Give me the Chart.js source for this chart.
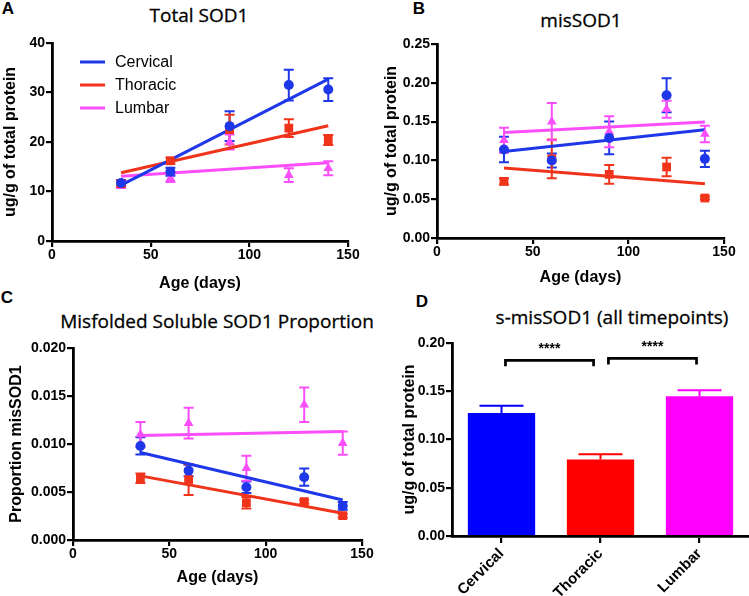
<!DOCTYPE html>
<html>
<head>
<meta charset="utf-8">
<script src="https://cdn.jsdelivr.net/npm/chart.js@4.4.1/dist/chart.umd.min.js"></script>
<style>
  html, body { margin: 0; padding: 0; background: #fff; }
  body { width: 749px; height: 596px; position: relative; overflow: hidden; }
  canvas { position: absolute; }
  .ttl { position: absolute; transform: translate(-50%, -50%); white-space: nowrap;
         font-family: 'Open Sans', sans-serif; font-size: 19px; font-weight: 500; line-height: 1; color: #000;
         -webkit-text-stroke: 0.3px #000; }
  .let { position: absolute; transform: translate(-50%, -50%); font-family: 'Liberation Sans', Arial, sans-serif;
         font-weight: bold; font-size: 17px; line-height: 1; color: #000; }
</style>
</head>
<body>
<div class="let" style="left:8px; top:8px">A</div>
<div class="let" style="left:419px; top:8px">B</div>
<div class="let" style="left:7px; top:297px">C</div>
<div class="let" style="left:422px; top:301px">D</div>
<div class="ttl" style="left:199px; top:15px">Total SOD1</div>
<div class="ttl" style="left:581px; top:20px">misSOD1</div>
<div class="ttl" style="left:217px; top:321px">Misfolded Soluble SOD1 Proportion</div>
<div class="ttl" style="left:612px; top:317px">s-misSOD1 (all timepoints)</div>

<canvas id="cA" width="375" height="293" style="left:0px; top:0px"></canvas>
<canvas id="cB" width="374" height="290" style="left:375px; top:0px"></canvas>
<canvas id="cC" width="375" height="296" style="left:0px; top:300px"></canvas>
<canvas id="cD" width="374" height="296" style="left:375px; top:300px"></canvas>

<script>
// ---------------- DATA ----------------
const regions = ['Cervical', 'Thoracic', 'Lumbar'];
const ages = [35, 60, 90, 120, 140];
const fitAges = [35, 140];

// A: Total SOD1 (ug/g of total protein)
const totalCervical = [11.7, 14.0, 23.2, 31.5, 30.6];
const totalCervicalSem = [0.6, 0.8, 3.0, 3.1, 2.3];
const totalThoracic = [11.6, 16.2, 22.5, 22.8, 20.4];
const totalThoracicSem = [0.5, 0.6, 3.0, 1.8, 1.0];
const totalLumbar = [11.3, 12.7, 20.0, 13.3, 14.7];
const totalLumbarSem = [0.6, 0.8, 1.5, 1.4, 1.4];
const totalFitCervical = [11.3, 32.7];
const totalFitThoracic = [13.8, 23.3];
const totalFitLumbar = [13.1, 15.8];
const totalTicks = [0, 10, 20, 30, 40];

// B: misSOD1
const misCervical = [0.114, 0.100, 0.129, 0.184, 0.102];
const misCervicalSem = [0.0165, 0.009, 0.021, 0.022, 0.0105];
const misThoracic = [0.073, 0.102, 0.082, 0.0915, 0.0515];
const misThoracicSem = [0.004, 0.025, 0.012, 0.012, 0.002];
const misLumbar = [0.126, 0.150, 0.137, 0.166, 0.134];
const misLumbarSem = [0.016, 0.024, 0.020, 0.011, 0.0105];
const misFitCervical = [0.1116, 0.1396];
const misFitThoracic = [0.0902, 0.0700];
const misFitLumbar = [0.1360, 0.1495];
const misTicks = [0, 0.05, 0.10, 0.15, 0.20, 0.25];

// C: Proportion misSOD1
const propCervical = [0.0098, 0.00723, 0.0055, 0.00654, 0.00355];
const propCervicalSem = [0.0009, 0.0006, 0.0006, 0.0009, 0.0004];
const propThoracic = [0.00643, 0.0063, 0.00389, 0.0040, 0.00254];
const propThoracicSem = [0.0005, 0.0016, 0.0006, 0.0002, 0.0002];
const propLumbar = [0.0110, 0.01217, 0.00748, 0.01409, 0.01009];
const propLumbarSem = [0.0013, 0.0016, 0.0013, 0.0018, 0.0012];
const propFitCervical = [0.00911, 0.00417];
const propFitThoracic = [0.00668, 0.00278];
const propFitLumbar = [0.01089, 0.0113];
const propTicks = [0, 0.005, 0.010, 0.015, 0.020];

// D: s-misSOD1 (all timepoints)
const allMeans = [0.1275, 0.0792, 0.1448];
const allSem = [0.0075, 0.0055, 0.0062];
const allTicks = [0, 0.05, 0.10, 0.15, 0.20];
const sigPairs = [[0, 1], [1, 2]];
const sigLevels = [0.182, 0.184];
const sigLabels = ['****', '****'];

const ageTicks = [0, 50, 100, 150];

// ---------------- STYLE ----------------
const BLUE = 'rgb(30,55,232)';
const RED = 'rgb(240,52,28)';
const PINK = 'rgb(250,78,250)';
const BAR_COLORS = ['rgb(0,0,255)', 'rgb(255,0,0)', 'rgb(255,0,255)'];
const FONT = "'Liberation Sans', Arial, Helvetica, sans-serif";
Chart.defaults.font.family = FONT;
Chart.defaults.color = '#000';

function pts(xs, ys) { return xs.map((x, i) => ({ x: x, y: ys[i] })); }

const errorBarPlugin = {
  id: 'errorBars',
  beforeDatasetsDraw(chart) {
    const ctx = chart.ctx;
    chart.data.datasets.forEach((ds, i) => {
      if (!ds.errorBars) return;
      const meta = chart.getDatasetMeta(i);
      const ys = chart.scales[meta.yAxisID];
      ctx.save();
      ctx.strokeStyle = ds.errorColor || ds.borderColor;
      ctx.lineWidth = ds.errorWidth || 2;
      meta.data.forEach((el, j) => {
        const d = ds.data[j];
        const v = (typeof d === 'object') ? d.y : d;
        const e = ds.errorBars[j];
        const x = el.x;
        const cap = ds.errorCap || 5;
        const yT = ys.getPixelForValue(v + e);
        const yB = ys.getPixelForValue(v - e);
        ctx.beginPath();
        ctx.moveTo(x, yT); ctx.lineTo(x, yB);
        ctx.moveTo(x - cap, yT); ctx.lineTo(x + cap, yT);
        ctx.moveTo(x - cap, yB); ctx.lineTo(x + cap, yB);
        ctx.stroke();
      });
      ctx.restore();
    });
  }
};

const insideLegendPlugin = {
  id: 'insideLegend',
  afterDraw(chart, args, opts) {
    if (!opts || !opts.display) return;
    const ctx = chart.ctx;
    let row = 0;
    ctx.save();
    ctx.font = opts.font;
    ctx.textBaseline = 'middle';
    ctx.textAlign = 'left';
    chart.data.datasets.forEach(ds => {
      if (!ds.legendLine) return;
      const y = opts.y + row * opts.rowH;
      ctx.strokeStyle = ds.borderColor;
      ctx.lineWidth = 3;
      ctx.beginPath();
      ctx.moveTo(opts.x, y); ctx.lineTo(opts.x + opts.lineLen, y);
      ctx.stroke();
      ctx.fillStyle = '#000';
      ctx.fillText(ds.label, opts.x + opts.lineLen + opts.gap, y + 1);
      row++;
    });
    ctx.restore();
  }
};

const sigPlugin = {
  id: 'sigBrackets',
  afterDatasetsDraw(chart, args, opts) {
    if (!opts || !opts.pairs) return;
    const ctx = chart.ctx;
    const xs = chart.scales.x, ys = chart.scales.y;
    ctx.save();
    ctx.strokeStyle = '#000';
    ctx.lineWidth = 2.7;
    ctx.fillStyle = '#000';
    ctx.font = 'bold 14px ' + FONT;
    ctx.textAlign = 'center';
    ctx.textBaseline = 'middle';
    opts.pairs.forEach((p, k) => {
      const x1 = xs.getPixelForValue(p[0] + opts.inset[k][0]);
      const x2 = xs.getPixelForValue(p[1] - opts.inset[k][1]);
      const y = ys.getPixelForValue(opts.levels[k]);
      ctx.beginPath();
      ctx.moveTo(x1, y + opts.drop); ctx.lineTo(x1, y); ctx.lineTo(x2, y); ctx.lineTo(x2, y + opts.drop);
      ctx.stroke();
      ctx.fillText(opts.labels[k], (x1 + x2) / 2, y - 11);
    });
    ctx.restore();
  }
};

function axisLines(tickLen) {
  return {
    grid: { display: true, drawOnChartArea: false, drawTicks: true, tickLength: tickLen,
            color: '#000', tickColor: '#000', tickWidth: 2.2, lineWidth: 2.2 },
    border: { display: true, color: '#000', width: 2.8 }
  };
}

const TICK_FONT = { size: 14, weight: 'bold' };
const AXIS_TITLE_FONT = { size: 16, weight: 'bold' };

function scatterPanel(id, g, yTicks, dec, yTitle, series, fits, legend) {
  const datasets = [];
  series.forEach(s => {
    datasets.push({
      label: s.label, data: pts(ages, s.values), errorBars: s.sem,
      pointStyle: s.style, pointRadius: s.radius, pointHoverRadius: s.radius,
      backgroundColor: s.color, borderColor: s.color, borderWidth: 0, showLine: false
    });
  });
  fits.forEach(f => {
    datasets.push({
      label: f.label, data: pts(fitAges, f.values), legendLine: true,
      showLine: true, pointRadius: 0, borderColor: f.color, backgroundColor: f.color, borderWidth: 3
    });
  });
  return new Chart(document.getElementById(id), {
    type: 'scatter',
    data: { datasets: datasets },
    options: {
      responsive: false, animation: false, devicePixelRatio: 1,
      layout: { padding: g.pad },
      plugins: {
        legend: { display: false }, tooltip: { enabled: false }, title: { display: false },
        insideLegend: legend || { display: false }
      },
      scales: {
        x: Object.assign({
          type: 'linear', min: 0, max: 150,
          afterBuildTicks: s => { s.ticks = ageTicks.map(v => ({ value: v })); },
          ticks: { font: TICK_FONT, color: '#000', padding: 0, autoSkip: false, maxRotation: 0 },
          title: { display: true, text: 'Age (days)', color: '#000', font: AXIS_TITLE_FONT,
                   padding: { top: 0, bottom: g.xTitlePad } },
          afterFit: s => { s.height = g.xH; }
        }, axisLines(6)),
        y: Object.assign({
          type: 'linear', min: yTicks[0], max: yTicks[yTicks.length - 1],
          afterBuildTicks: s => { s.ticks = yTicks.map(v => ({ value: v })); },
          ticks: { font: TICK_FONT, color: '#000', padding: 1, autoSkip: false,
                   callback: v => Number(v).toFixed(dec) },
          title: { display: true, text: yTitle, color: '#000', font: AXIS_TITLE_FONT,
                   padding: { top: g.yTitlePad, bottom: 0 } },
          afterFit: s => { s.width = g.yW; }
        }, axisLines(6))
      }
    },
    plugins: [errorBarPlugin, insideLegendPlugin]
  });
}

function seriesSet(c, t, l, cs, ts, ls) {
  return [
    { label: regions[0], values: c, sem: cs, color: BLUE, style: 'circle', radius: 5 },
    { label: regions[1], values: t, sem: ts, color: RED, style: 'rect', radius: 6.2 },
    { label: regions[2], values: l, sem: ls, color: PINK, style: 'triangle', radius: 5.6 }
  ];
}
function fitSet(c, t, l) {
  return [
    { label: regions[0], values: c, color: BLUE },
    { label: regions[1], values: t, color: RED },
    { label: regions[2], values: l, color: PINK }
  ];
}

// A
scatterPanel('cA', { pad: { left: 0, top: 43, right: 27, bottom: 0 }, yW: 52, xH: 52, yTitlePad: 0.5, xTitlePad: 0 },
  totalTicks, 0, 'ug/g of total protein',
  seriesSet(totalCervical, totalThoracic, totalLumbar, totalCervicalSem, totalThoracicSem, totalLumbarSem),
  fitSet(totalFitCervical, totalFitThoracic, totalFitLumbar),
  { display: true, x: 80, y: 62, rowH: 23, lineLen: 25, gap: 10, font: '16px ' + FONT });

// B
scatterPanel('cB', { pad: { left: 0, top: 44, right: 25, bottom: 0 }, yW: 62, xH: 52, yTitlePad: 7.4, xTitlePad: 2.4 },
  misTicks, 2, 'ug/g of total protein',
  seriesSet(misCervical, misThoracic, misLumbar, misCervicalSem, misThoracicSem, misLumbarSem),
  fitSet(misFitCervical, misFitThoracic, misFitLumbar), null);

// C
scatterPanel('cC', { pad: { left: 0, top: 48, right: 13, bottom: 0 }, yW: 73, xH: 56, yTitlePad: 7.4, xTitlePad: 8.4 },
  propTicks, 3, 'Proportion misSOD1',
  seriesSet(propCervical, propThoracic, propLumbar, propCervicalSem, propThoracicSem, propLumbarSem),
  fitSet(propFitCervical, propFitThoracic, propFitLumbar), null);

// D
new Chart(document.getElementById('cD'), {
  type: 'bar',
  data: {
    labels: regions,
    datasets: [{
      data: allMeans, backgroundColor: BAR_COLORS, borderWidth: 0,
      errorBars: allSem, errorCap: 22, errorWidth: 2,
      barPercentage: 0.68, categoryPercentage: 1
    }]
  },
  options: {
    responsive: false, animation: false, devicePixelRatio: 1,
    layout: { padding: { left: 0, top: 43, right: 0, bottom: 0 } },
    plugins: {
      legend: { display: false }, tooltip: { enabled: false },
      sigBrackets: { pairs: sigPairs, levels: sigLevels, labels: sigLabels,
                     inset: [[0.04, 0.07], [0.08, 0.03]], drop: 6 }
    },
    scales: {
      x: Object.assign({
        type: 'category', offset: true,
        ticks: { font: { size: 15, weight: 'bold' }, color: '#000', padding: 2, minRotation: 45, maxRotation: 45, autoSkip: false },
        afterFit: s => { s.height = 60; }
      }, axisLines(7), { grid: { display: true, offset: false, drawOnChartArea: false, drawTicks: true, tickLength: 7,
                                 color: '#000', tickColor: '#000', tickWidth: 2.2, lineWidth: 2.2 } }),
      y: Object.assign({
        type: 'linear', min: allTicks[0], max: allTicks[allTicks.length - 1],
        afterBuildTicks: s => { s.ticks = allTicks.map(v => ({ value: v })); },
        ticks: { font: TICK_FONT, color: '#000', padding: 1, autoSkip: false,
                 callback: v => Number(v).toFixed(2) },
        title: { display: true, text: 'ug/g of total protein', color: '#000', font: AXIS_TITLE_FONT,
                 padding: { top: 25.4, bottom: 0 } },
        afterFit: s => { s.width = 77; }
      }, axisLines(6))
    }
  },
  plugins: [{
    id: 'barErrors',
    beforeDatasetsDraw(chart) {
      const ctx = chart.ctx;
      const ds = chart.data.datasets[0];
      const meta = chart.getDatasetMeta(0);
      const ys = chart.scales.y;
      ctx.save();
      ctx.lineWidth = ds.errorWidth;
      meta.data.forEach((el, j) => {
        ctx.strokeStyle = ds.backgroundColor[j];
        const yT = ys.getPixelForValue(ds.data[j] + ds.errorBars[j]);
        const yB = ys.getPixelForValue(ds.data[j]);
        ctx.beginPath();
        ctx.moveTo(el.x, yB); ctx.lineTo(el.x, yT);
        ctx.moveTo(el.x - ds.errorCap, yT); ctx.lineTo(el.x + ds.errorCap, yT);
        ctx.stroke();
      });
      ctx.restore();
    }
  }, sigPlugin]
});
</script>
</body>
</html>
